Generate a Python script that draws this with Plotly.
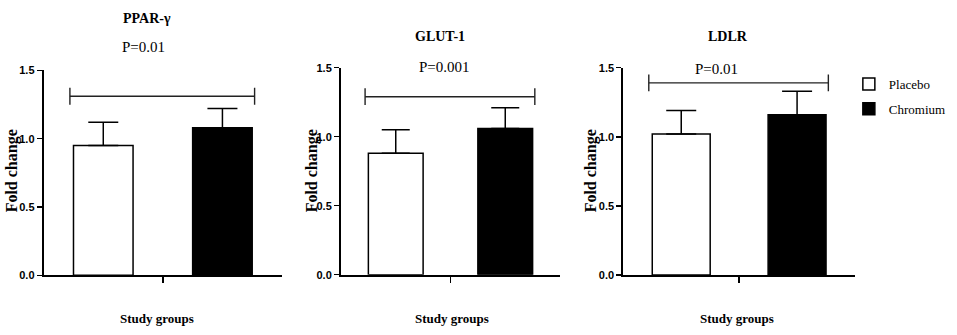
import plotly.graph_objects as go

# ---- data ----
genes = ["PPAR-γ", "GLUT-1", "LDLR"]
groups = ["Placebo", "Chromium"]
placebo_mean = [0.95, 0.88, 1.02]
placebo_err = [0.17, 0.17, 0.17]
chromium_mean = [1.08, 1.06, 1.16]
chromium_err = [0.14, 0.15, 0.17]
p_labels = ["P=0.01", "P=0.001", "P=0.01"]
bracket_y = [1.31, 1.29, 1.39]
y_ticks = [0.0, 0.5, 1.0, 1.5]

W, H = 957, 335
SERIF = "Liberation Serif"
SANS = "Liberation Sans"

# panel layout in pixels: (x_left, x_right, y_top(1.5), y_bottom(0))
panels_px = [(43.7, 282, 66.7, 279.3), (341, 560, 64, 278.7), (623.3, 855, 64, 279)]
cap_w = [15, 14, 15]
title_pos = [(146.7, 13), (440, 31.7), (728, 31.7)]
p_pos = [(143, 43), (444, 63), (716.7, 65)]
ylab_x = [11.5, 311.5, 590.5]
xlab_x = [157, 451.7, 736.7]

fig = go.Figure()
layout = dict(
    width=W, height=H, margin=dict(l=0, r=0, t=0, b=0),
    paper_bgcolor="white", plot_bgcolor="white",
    font=dict(family=SERIF, color="black"),
    showlegend=True,
    legend=dict(x=0.887, y=0.805, xanchor="left", yanchor="top",
                font=dict(family=SERIF, size=13, color="black"),
                traceorder="grouped", tracegroupgap=5, bgcolor="rgba(0,0,0,0)"),
    annotations=[], bargap=0,
)

colors = ["white", "black"]
for i, g in enumerate(genes):
    xa = "x" if i == 0 else f"x{i+1}"
    ya = "y" if i == 0 else f"y{i+1}"
    means = [placebo_mean[i], chromium_mean[i]]
    errs = [placebo_err[i], chromium_err[i]]
    for j, grp in enumerate(groups):
        fig.add_trace(go.Bar(
            x=[j], y=[means[j]], width=0.5, name=grp,
            legendgroup=grp, showlegend=(i == 0),
            marker=dict(color=colors[j], line=dict(color="black", width=1.5)),
            error_y=dict(type="data", symmetric=False, array=[errs[j]], arrayminus=[0],
                         color="black", thickness=1.5, width=cap_w[i]),
            xaxis=xa, yaxis=ya,
        ))
    # significance bracket
    fig.add_trace(go.Scatter(
        x=[0 - 0.28, 1 + 0.27], y=[bracket_y[i], bracket_y[i]],
        mode="lines+markers", showlegend=False, hoverinfo="skip",
        line=dict(color="#222", width=1.4),
        marker=dict(symbol="line-ns-open", size=12, line=dict(color="#222", width=1.4)),
        xaxis=xa, yaxis=ya,
    ))
    xl, xr, yt, yb = panels_px[i]
    xk = "xaxis" if i == 0 else f"xaxis{i+1}"
    yk = "yaxis" if i == 0 else f"yaxis{i+1}"
    layout[xk] = dict(domain=[xl / W, xr / W], range=[-0.5, 1.5], anchor=ya,
                      showgrid=False, zeroline=False, showline=True, linecolor="black",
                      linewidth=2, ticks="outside", ticklen=6, tickwidth=1.5,
                      tickcolor="black", tickvals=[0.5], ticktext=[""], fixedrange=True)
    layout[yk] = dict(domain=[1 - yb / H, 1 - yt / H], range=[0, 1.5], anchor=xa,
                      showgrid=False, zeroline=False, showline=True, linecolor="black",
                      linewidth=2, ticks="outside", ticklen=5, tickwidth=1.5,
                      tickcolor="black", tickvals=y_ticks, tickformat=".1f",
                      tickfont=dict(family=SANS, size=11, color="black", weight="bold"))
    ann = layout["annotations"]
    ann.append(dict(text=f"<b>{g}</b>", x=title_pos[i][0] / W, y=1 - title_pos[i][1] / H,
                    xref="paper", yref="paper", showarrow=False, xanchor="center",
                    yanchor="middle", font=dict(family=SERIF, size=14, color="black")))
    ann.append(dict(text=p_labels[i], x=p_pos[i][0] / W, y=1 - p_pos[i][1] / H,
                    xref="paper", yref="paper", showarrow=False, xanchor="center",
                    yanchor="middle", font=dict(family=SERIF, size=15, color="black")))
    ann.append(dict(text="<b>Fold change</b>", x=ylab_x[i] / W, y=1 - 171 / H,
                    xref="paper", yref="paper", showarrow=False, textangle=-90,
                    xanchor="center", yanchor="middle",
                    font=dict(family=SERIF, size=16, color="black")))
    ann.append(dict(text="<b>Study groups</b>", x=xlab_x[i] / W, y=1 - 324 / H,
                    xref="paper", yref="paper", showarrow=False, xanchor="center",
                    yanchor="middle", font=dict(family=SERIF, size=13, color="black")))

fig.update_layout(**layout)
fig.write_html("out.html", config={"displayModeBar": False, "staticPlot": True},
               post_script="document.body.style.margin='0';document.body.style.padding='0';")
